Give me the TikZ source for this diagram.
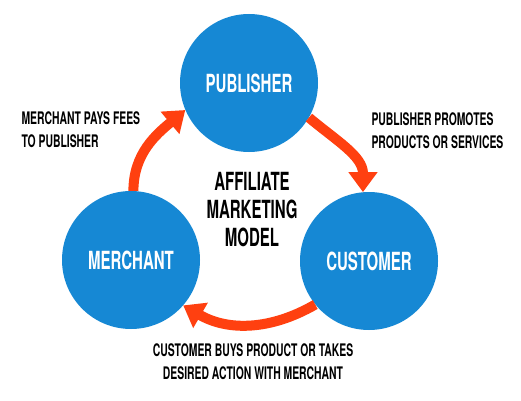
\documentclass[tikz,border=0pt]{standalone}
\usepackage{fontspec}
\usetikzlibrary{arrows.meta}
\newfontfamily\bebas{TeX Gyre Heros}[FakeStretch=0.6]
\definecolor{circblue}{RGB}{22,136,212}
\definecolor{flowred}{RGB}{255,64,16}
\begin{document}
\begin{tikzpicture}[x=1pt,y=1pt,
    flow/.style={draw=flowred, line width=10pt, -{Triangle[width=28pt,length=20pt]}}]

        \useasboundingbox[fill=white] (0,0) rectangle (521,400);

        \begin{scope}[every node/.style={circle, fill=circblue, minimum size=138pt,
            inner sep=0pt, text=white, font=\bebas\bfseries\fontsize{25}{28}\selectfont}]
          \node (publisher) at (249,317) {PUBLISHER};
          \node (merchant)  at (131,140) {MERCHANT};
          \node (customer)  at (369,139) {CUSTOMER};
        \end{scope}

        \node[align=center, font=\bebas\bfseries\fontsize{25}{28}\selectfont] (title) at (252,190)
          {AFFILIATE\\MARKETING\\MODEL};

        \begin{scope}[every node/.style={font=\bebas\bfseries\fontsize{17.3}{23}\selectfont}]
          \node[anchor=west, align=left] (fees) at (18,270) {MERCHANT PAYS FEES\\TO PUBLISHER};
          \node[anchor=west, align=left] (promotes) at (368,269) {PUBLISHER PROMOTES\\PRODUCTS OR SERVICES};
          \node[align=center] (buys) at (253,38) {CUSTOMER BUYS PRODUCT OR TAKES\\DESIRED ACTION WITH MERCHANT};
        \end{scope}

        \path (merchant.88) edge[flow, out=90, in=220] (publisher.203);
        \path (publisher.-30) edge[flow, out=-40, in=90] (customer.95);
        \path (customer.219) edge[flow, out=-150, in=-30] (merchant.-41);

      \end{tikzpicture}
\end{document}
